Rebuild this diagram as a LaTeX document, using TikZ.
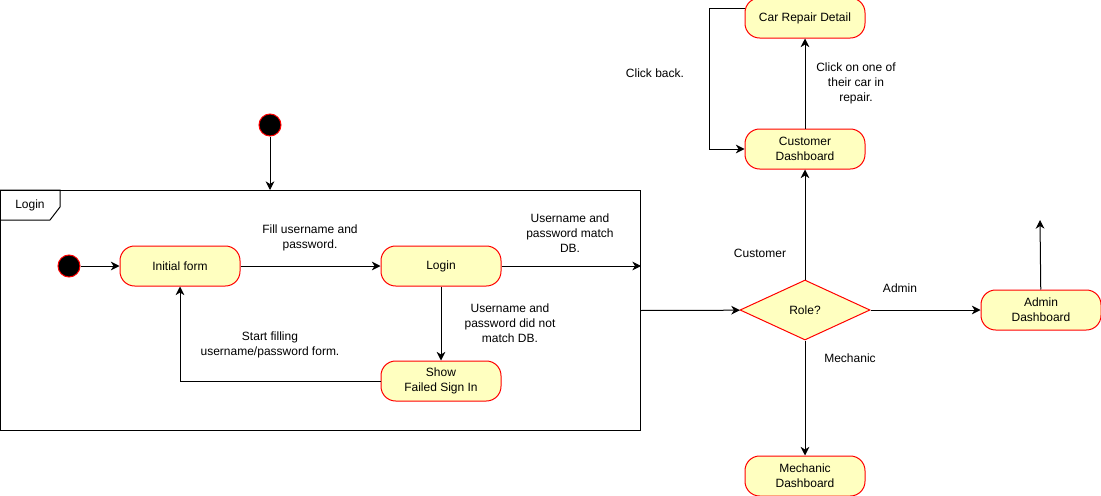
\documentclass[tikz,border=0pt]{standalone}
\usepackage{fontspec}
\setmainfont{Liberation Sans}
\usepackage{xcolor}
\usetikzlibrary{arrows.meta,positioning,shapes.geometric}
\definecolor{umlfill}{HTML}{FFFFC0}
\definecolor{umlred}{HTML}{FF0000}
\definecolor{umldark}{HTML}{000000}
\tikzset{
  state/.style={rounded corners=11pt,draw=umlred,fill=umlfill,line width=0.75pt,align=center,inner sep=0pt,minimum width=90pt,minimum height=30pt,font=\fontsize{9}{11.25}\selectfont},
  startpt/.style={circle,fill=black,draw=umlred,line width=0.75pt,inner sep=0pt,minimum size=16.5pt},
  choice/.style={diamond,draw=umlred,fill=umlfill,line width=0.75pt,inner sep=0pt,aspect=2.17,minimum width=97.5pt,minimum height=45pt,font=\fontsize{9}{11.25}\selectfont},
  frame/.style={draw=umldark,line width=0.75pt,inner sep=0pt},
  ar/.style={-{Stealth[length=6.5pt,width=6.5pt,inset=2pt]},draw=umldark,line width=0.75pt},
  lbl/.style={align=center,inner sep=0pt,font=\fontsize{9}{11.25}\selectfont},
}

\begin{document}
\begin{tikzpicture}[x=0.75pt,y=-0.75pt]
  \useasboundingbox (0,0) rectangle (1101,496);
  % login sub-machine
  \node[startpt] (start) at (270,125) {};
  \node[frame,minimum width=480pt,minimum height=180pt,anchor=north west] (login) at (0,190) {};
  \draw[frame] (login.north west) -- ++(60,0) -- ++(0,17) -- ++(-10,13) -- ++(-50,0);
  \node[lbl,anchor=west] (logintag) at (15,205) {Login};
  \node[state] (initform) at (180,266) {Initial form};
  \node[startpt,left=29.25pt of initform] (ini) {};
  \node[state,right=105pt of initform] (loginst) {Login};
  \node[state,below=55.5pt of loginst] (failed) {Show\\Failed Sign In};
  \draw[ar] (start) -- (start |- login.north);
  \draw[ar] (ini) -- (initform);
  \draw[ar] (initform) -- (loginst);
  \draw[ar] (loginst) -- (loginst -| login.east);
  \draw[ar] (loginst) -- (failed);
  \draw[ar] (failed.west) -| (initform.south);
  \node[lbl] at (310,238) {Fill username and\\password.};
  \node[lbl] at (570,233) {Username and\\password match\\DB.};
  \node[lbl] at (510,323) {Username and\\password did not\\match DB.};
  \node[lbl] at (270,345) {Start filling\\username/password form.};
  % roles
  \node[choice] (role) at (805,310) {Role?};
  \node[state,above=82.5pt of role] (custdash) {Customer\\Dashboard};
  \node[state,above=67.5pt of custdash] (repair) {Car Repair Detail};
  \node[state,right=82.5pt of role] (admindash) {Admin\\Dashboard};
  \node[state,below=86.25pt of role] (mechdash) {Mechanic\\Dashboard};
  \coordinate (adminout) at (1040,220);
  \draw[ar] (login.east) -- (role);
  \draw[ar] (role) -- (custdash);
  \draw[ar] (custdash) -- (repair);
  \draw[ar] ([yshift=7.5pt]repair.west) -- ++(-26.25pt,0) |- (custdash.west);
  \draw[ar] (role) -- (admindash);
  \draw[ar] (admindash) -- (adminout);
  \draw[ar] (role) -- (mechdash);
  \node[lbl] at (760,253) {Customer};
  \node[lbl] at (856,83) {Click on one of\\their car in\\repair.};
  \node[lbl] at (655,73) {Click back.};
  \node[lbl] at (900,288) {Admin};
  \node[lbl] at (850,358) {Mechanic};
\end{tikzpicture}
\end{document}
